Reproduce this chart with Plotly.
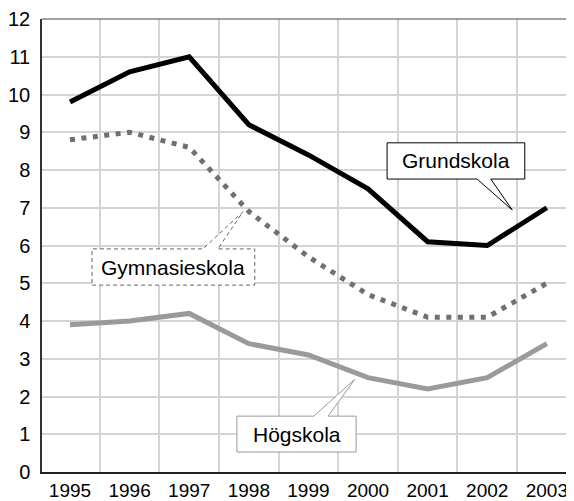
import plotly.graph_objects as go

years = ["1995", "1996", "1997", "1998", "1999", "2000", "2001", "2002", "2003"]
grundskola = [9.8, 10.6, 11.0, 9.2, 8.4, 7.5, 6.1, 6.0, 7.0]
gymnasieskola = [8.8, 9.0, 8.6, 6.9, 5.7, 4.7, 4.1, 4.1, 5.0]
hogskola = [3.9, 4.0, 4.2, 3.4, 3.1, 2.5, 2.2, 2.5, 3.4]
y_ticks = list(range(0, 13))

xs = list(range(len(years)))
FONT = "Liberation Sans, Arial, Helvetica, sans-serif"

fig = go.Figure()
fig.add_trace(go.Scatter(x=xs, y=hogskola, mode="lines", name="Högskola",
                         line=dict(color="#9a9a9a", width=5)))
fig.add_trace(go.Scatter(x=xs, y=gymnasieskola, mode="lines", name="Gymnasieskola",
                         line=dict(color="#707070", width=5, dash="5px,6.5px")))
fig.add_trace(go.Scatter(x=xs, y=grundskola, mode="lines", name="Grundskola",
                         line=dict(color="#000000", width=5)))


def callout(x0, x1, yb, yt, b1, b2, tip, side, color, dash):
    tx, ty = tip
    if side == "bottom":
        path = (f"M {x0},{yt} L {x1},{yt} L {x1},{yb} L {b2},{yb} L {tx},{ty} "
                f"L {b1},{yb} L {x0},{yb} Z")
    else:
        path = (f"M {x0},{yb} L {x1},{yb} L {x1},{yt} L {b2},{yt} L {tx},{ty} "
                f"L {b1},{yt} L {x0},{yt} Z")
    fig.add_shape(type="path", path=path, xref="x", yref="y", layer="between",
                  fillcolor="white", line=dict(color=color, width=1, dash=dash))


callout(5.32, 7.63, 7.76, 8.72, 6.83, 7.06, (7.42, 6.94), "bottom", "#000000", "solid")
callout(0.37, 3.10, 4.95, 5.91, 2.23, 2.48, (2.90, 6.89), "top", "#666666", "4px,3px")
callout(2.80, 4.80, 0.53, 1.48, 4.09, 4.33, (4.78, 2.46), "top", "#999999", "solid")

for txt, cx, cy in [("Grundskola", 6.475, 8.24), ("Gymnasieskola", 1.735, 5.43),
                    ("Högskola", 3.80, 1.005)]:
    fig.add_annotation(x=cx, y=cy, xref="x", yref="y", text=txt, showarrow=False,
                       font=dict(family=FONT, size=21, color="black"))

# top frame line
fig.add_shape(type="line", xref="paper", yref="paper", x0=0, x1=1, y0=1, y1=1,
              line=dict(color="#444444", width=1))

# page body has an 8px margin, so the figure is shrunk by 8px to fit the window
fig.update_layout(
    width=566, height=493,
    margin=dict(l=34, r=0, t=11, b=29, autoexpand=False),
    paper_bgcolor="white", plot_bgcolor="white",
    showlegend=False,
    font=dict(family=FONT, size=20, color="black"),
)
fig.update_xaxes(
    automargin=False,
    range=[-0.47, 8.456],
    tickmode="array", tickvals=xs, ticktext=years,
    showgrid=False, zeroline=False,
    showline=True, linecolor="#222222", linewidth=2,
    ticks="", ticklabelstandoff=0,
    minor=dict(tickmode="array", tickvals=[i + 0.5 for i in xs], showgrid=True,
               gridcolor="#d4d4d4", gridwidth=1.5, ticks=""),
    tickfont=dict(size=19),
)
fig.update_yaxes(
    automargin=False,
    range=[0, 12],
    tickmode="array", tickvals=y_ticks, ticktext=[str(v) for v in y_ticks],
    showgrid=True, gridcolor="#d4d4d4", gridwidth=1.5, zeroline=False,
    showline=True, linecolor="#333333", linewidth=1.5,
    ticks="", ticklabelstandoff=6,
    tickfont=dict(size=20),
)

fig.write_html("out.html")
